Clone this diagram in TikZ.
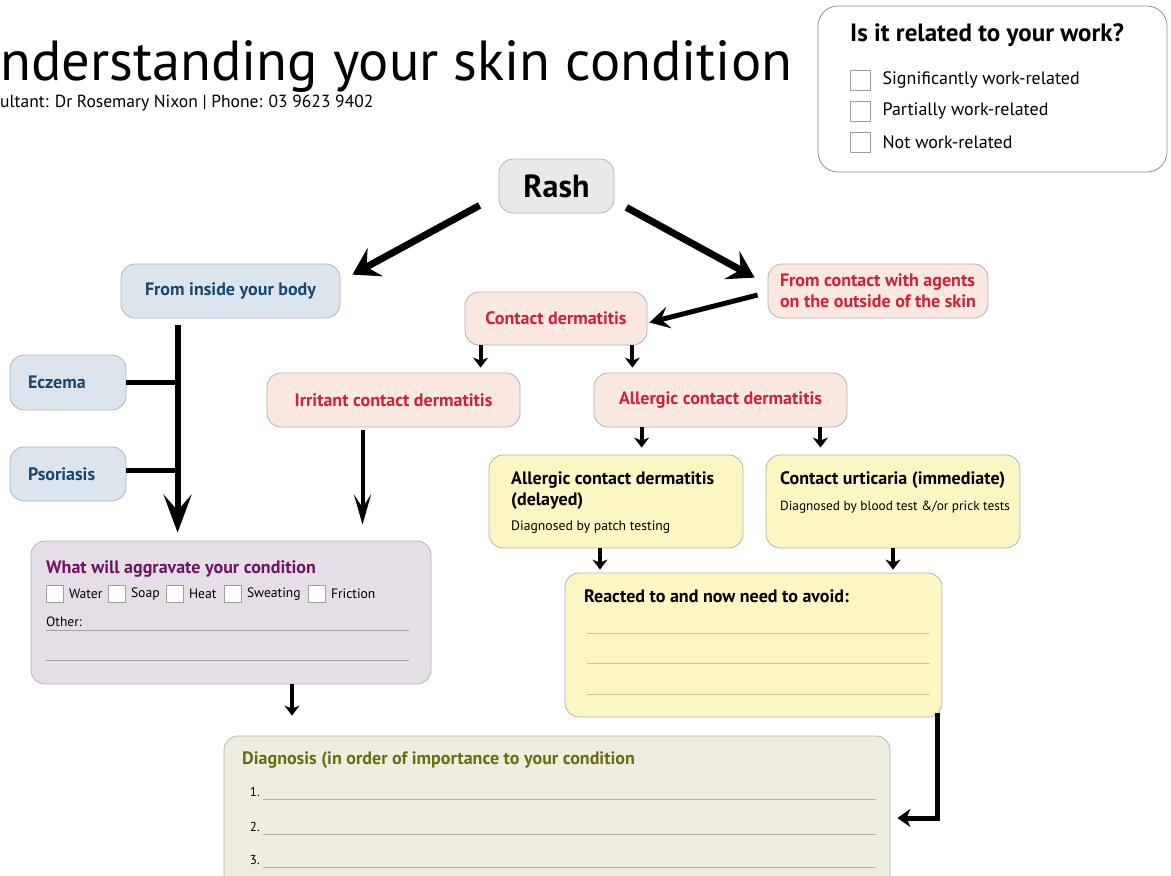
\documentclass[tikz,border=0pt]{standalone}
\usepackage{fontspec}
\setmainfont{PT Sans}
\usepackage{tikz}
\usetikzlibrary{arrows.meta,positioning}
\definecolor{rashgray}{HTML}{E9E9E9}
\definecolor{bodyblue}{HTML}{DCE5EE}
\definecolor{bodytext}{HTML}{17476E}
\definecolor{agentpink}{HTML}{FBE8E0}
\definecolor{agentred}{HTML}{D0203A}
\definecolor{avoidyellow}{HTML}{FCF6C2}
\definecolor{avoidline}{HTML}{CFC78F}
\definecolor{aggfill}{HTML}{E6DEE6}
\definecolor{aggtext}{HTML}{6D1464}
\definecolor{aggline}{HTML}{A99DA9}
\definecolor{diagfill}{HTML}{EEEDDF}
\definecolor{diagtext}{HTML}{6B6B12}
\definecolor{diagline}{HTML}{B3B09A}
\def\sz#1{\fontsize{#1}{#1}\selectfont}
\def\rr{14pt}
\tikzstyle{flowbox} = [draw=gray!60, line width=0.8pt, rounded corners=\rr, inner sep=0pt]
\tikzstyle{bodybox} = [flowbox, fill=bodyblue, text=bodytext, font=\bfseries\sz{18}]
\tikzstyle{agentbox} = [flowbox, fill=agentpink, text=agentred, font=\bfseries\sz{18}]
\tikzstyle{tickbox} = [draw=gray!75, line width=0.8pt, fill=white, inner sep=0pt]
\tikzstyle{bigarrow} = [line width=7pt, -{Stealth[length=26pt,width=32pt,inset=10pt]}]
\tikzstyle{trunkarrow} = [line width=6pt, -{Stealth[length=38pt,width=28pt,inset=16pt]}]
\tikzstyle{thinarrow} = [line width=4pt, -{Stealth[length=30pt,width=17pt,inset=13pt]}]
\tikzstyle{smallarrow} = [line width=4pt, -{Stealth[length=10pt,width=15pt,inset=3pt]}]
\tikzstyle{branch} = [line width=5pt]

\begin{document}
\begin{tikzpicture}[x=1pt,y=-1pt]
        \useasboundingbox (0,0) rectangle (1171,876);
        \clip (0,0) rectangle (1171,876);
        % heading
        \node[anchor=base west,inner sep=0pt,font=\sz{56.5}] (title) at (0,80) {nderstanding your skin condition};
        \node[anchor=base west,inner sep=0pt,font=\sz{17.5}] (contact info) at (0,107) {ultant: Dr Rosemary Nixon | Phone: 03 9623 9402};
        % work box
        \node[flowbox, draw=gray!90, rounded corners=20pt, minimum width=349pt, minimum height=166pt] (work) at (992.5,89) {};
        \node[anchor=base west,inner sep=0pt,font=\bfseries\sz{25}] (work title) at (850,41) {Is it related to your work?};
        \node[tickbox, minimum size=20pt] (w1) at (860,80) {};
        \node[tickbox, minimum size=20pt] (w2) at (860,111) {};
        \node[tickbox, minimum size=20pt] (w3) at (860,142) {};
        \node[anchor=west,inner sep=0pt,font=\sz{18}] at ([xshift=12pt]w1.east) {Significantly work-related};
        \node[anchor=west,inner sep=0pt,font=\sz{18}] at ([xshift=12pt]w2.east) {Partially work-related};
        \node[anchor=west,inner sep=0pt,font=\sz{18}] at ([xshift=12pt]w3.east) {Not work-related};
        % flow boxes
        \node[flowbox, fill=rashgray, font=\bfseries\sz{32}, minimum width=115pt, minimum height=54pt] (rash) at (556.5,186) {Rash};
        \node[bodybox, minimum width=219pt, minimum height=54pt] (inside) at (230.5,291) {From inside your body};
        \node[agentbox, minimum width=220pt, minimum height=54pt, align=left] (agents) at (878,291) {From contact with agents\\[3pt]on the outside of the skin};
        \node[agentbox, minimum width=182pt, minimum height=53pt] (contact) at (556,318.5) {Contact dermatitis};
        \node[agentbox, minimum width=253pt, minimum height=54pt] (irritant) at (393.5,400) {Irritant contact dermatitis};
        \node[agentbox, minimum width=253pt, minimum height=54pt] (allergic) at (720.5,400) {Allergic contact dermatitis};
        \node[bodybox, minimum width=116pt, minimum height=55pt, text width=80pt, align=left] (eczema) at (68,382.5) {Eczema};
        \node[bodybox, minimum width=116pt, minimum height=54pt, text width=80pt, align=left] (psoriasis) at (68,474) {Psoriasis};
        % yellow boxes
        \node[flowbox, fill=avoidyellow, minimum width=254pt, minimum height=93pt] (delayed) at (616,501.5) {};
        \node[anchor=base west,inner sep=0pt,font=\bfseries\sz{18}] at (511,484) {Allergic contact dermatitis};
        \node[anchor=base west,inner sep=0pt,font=\bfseries\sz{18}] at (511,505) {(delayed)};
        \node[anchor=base west,inner sep=0pt,font=\sz{13.7}] at (511,530) {Diagnosed by patch testing};
        \node[flowbox, fill=avoidyellow, minimum width=254pt, minimum height=93pt] (urticaria) at (893,501.5) {};
        \node[anchor=base west,inner sep=0pt,font=\bfseries\sz{18}] at (780,484) {Contact urticaria (immediate)};
        \node[anchor=base west,inner sep=0pt,font=\sz{13.3}] at (780,510) {Diagnosed by blood test \&/or prick tests};
        \node[flowbox, fill=avoidyellow, minimum width=377pt, minimum height=144pt] (reacted) at (753.5,645) {};
        \node[anchor=base west,inner sep=0pt,font=\bfseries\sz{18}] at (584,602) {Reacted to and now need to avoid:};
        \foreach \y in {633,663,694}
          \draw[avoidline, line width=0.8pt] (587,\y) -- (930,\y);
        % aggravate box
        \node[flowbox, fill=aggfill, minimum width=400pt, minimum height=143pt] (agg) at (231,612.5) {};
        \node[anchor=base west,inner sep=0pt,font=\bfseries\sz{18},text=aggtext] at (46,573) {What will aggravate your condition};
        \foreach \x/\t in {46/Water,108/Soap,166/Heat,224/Sweating,308/Friction}
          \node[tickbox, minimum size=17pt, anchor=west, label={[font=\sz{13.6},inner sep=0pt,xshift=5pt]east:\t}] at (\x,594) {};
        \node[anchor=base west,inner sep=0pt,font=\sz{13.5}] at (46,626) {Other:};
        \draw[aggline, line width=0.8pt] (46,630) -- (409,630);
        \draw[aggline, line width=0.8pt] (46,660) -- (409,660);
        % diagnosis box
        \node[flowbox, fill=diagfill, minimum width=666pt, minimum height=164pt] (diag) at (557,818) {};
        \node[anchor=base west,inner sep=0pt,font=\bfseries\sz{18},text=diagtext] at (242,764) {Diagnosis (in order of importance to your condition};
        \foreach \n/\y in {1/799,2/834,3/867}{
          \node[anchor=base east,inner sep=0pt,font=\sz{13}] at (260,\y-3) {\n.};
          \draw[diagline, line width=0.8pt] (263,\y) -- (876,\y);
        }
        % connectors
        \coordinate (trunk) at ([xshift=57pt,yshift=-7pt]inside.south west);
        \coordinate (irr) at ([xshift=-31pt,yshift=-3pt]irritant.south);
        \coordinate (cd1) at ([xshift=16pt]contact.south west);
        \coordinate (cd2) at ([xshift=-15pt]contact.south east);
        \coordinate (ad1) at ([xshift=48pt]allergic.south west);
        \coordinate (ad2) at ([xshift=-27pt]allergic.south east);
        \coordinate (dr) at ([xshift=-16pt]delayed.south);
        \coordinate (ur) at (urticaria.south);
        \coordinate (ag) at ([xshift=61pt]agg.south);
        \draw[bigarrow] ([xshift=-19pt,yshift=8pt]rash.south west) -- ([xshift=12pt,yshift=-11pt]inside.north east);
        \draw[bigarrow] ([xshift=12pt,yshift=6pt]rash.south east) -- ([xshift=-13pt,yshift=-14pt]agents.north west);
        \draw[line width=5pt, -{Stealth[length=20pt,width=22pt,inset=8pt]}] ([xshift=-10pt,yshift=-4pt]agents.west) -- ([xshift=2pt,yshift=-4pt]contact.east);
        \draw[trunkarrow, shorten >=8pt] (trunk) -- (trunk |- agg.north);
        \draw[branch] (eczema.east) -- (eczema.east -| trunk);
        \draw[branch] ([yshift=4pt]psoriasis.east) -- ([yshift=4pt]psoriasis.east -| trunk);
        \draw[thinarrow, shorten >=16pt] (irr) -- (irr |- agg.north);
        \draw[smallarrow, shorten >=5pt] (cd1) -- (cd1 |- irritant.north);
        \draw[smallarrow, shorten >=5pt] (cd2) -- (cd2 |- allergic.north);
        \draw[smallarrow, shorten >=7pt] (ad1) -- (ad1 |- delayed.north);
        \draw[smallarrow, shorten >=7pt] (ad2) -- (ad2 |- urticaria.north);
        \draw[smallarrow, shorten >=3pt] (dr) -- (dr |- reacted.north);
        \draw[smallarrow, shorten >=3pt] (ur) -- (ur |- reacted.north);
        \draw[smallarrow, shorten >=20pt] (ag) -- (ag |- diag.north);
        \draw[line width=5pt, -{Stealth[length=13pt,width=18pt,inset=4pt]}, shorten >=7pt] ([xshift=-5pt,yshift=4pt]reacted.south east) |- (diag.east);
\end{tikzpicture}
\end{document}
